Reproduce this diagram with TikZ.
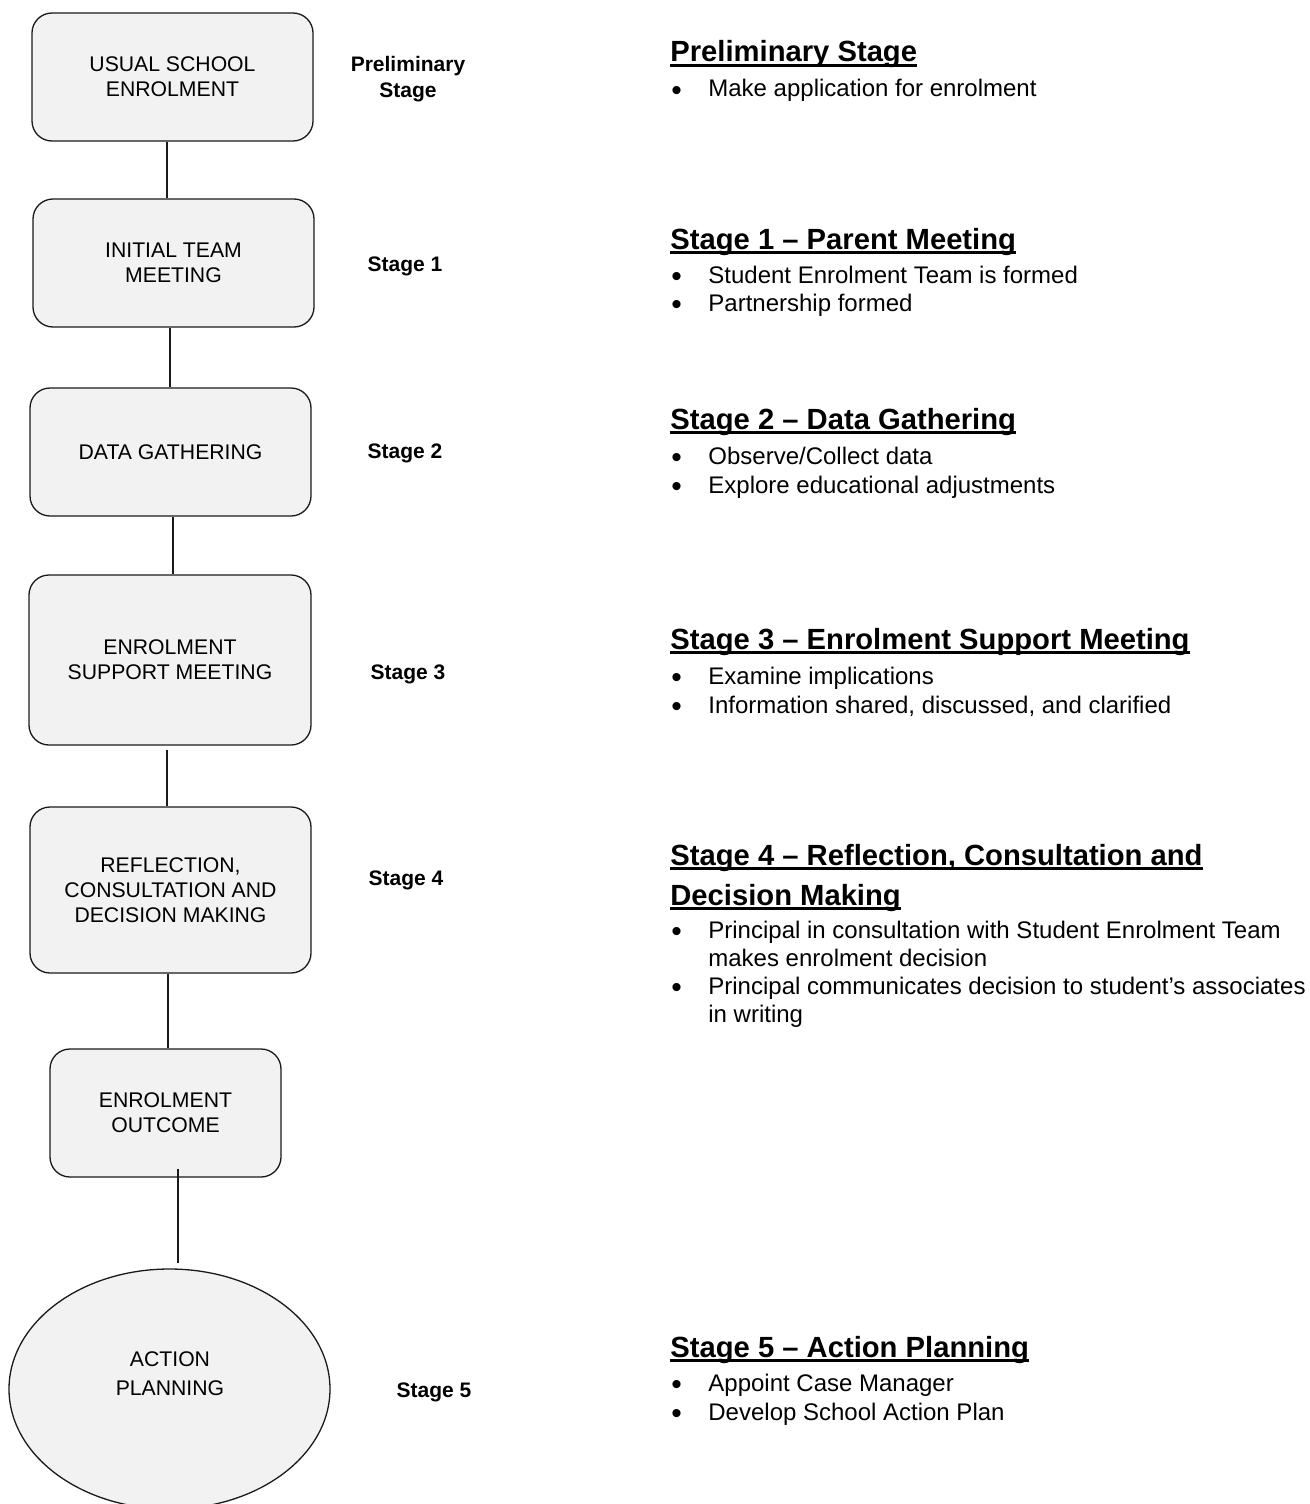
\documentclass[tikz,border=0pt]{standalone}
\usepackage{fontspec}
\setmainfont{Liberation Sans}
\usetikzlibrary{shapes.geometric}
\definecolor{boxfill}{HTML}{F2F2F2}
\definecolor{edgecol}{HTML}{1A1A1A}
\newcommand\bxfont{\fontsize{10.6pt}{12.5pt}\selectfont}
\newcommand\lbfont{\fontsize{10.5pt}{12.5pt}\selectfont\bfseries}
\newcommand\hdfont{\fontsize{14.6pt}{20pt}\selectfont\bfseries}
\newcommand\btfont{\fontsize{12pt}{14pt}\selectfont}
\newcommand\dotfont{\fontsize{15pt}{16pt}\selectfont}
\newcommand\hul[1]{\setbox0\hbox{#1}\rlap{\rule[-2.3pt]{\wd0}{1.3pt}}\box0}
\tikzset{
  stagebox/.style={draw=edgecol, line width=0.65pt, fill=boxfill, rounded corners=10pt,
    align=center, inner sep=0pt, font=\bxfont},
  planell/.style={ellipse, draw=edgecol, line width=0.65pt, fill=boxfill, inner sep=0pt},
  elltext/.style={anchor=base, inner sep=0pt, font=\bxfont},
  stagelbl/.style={anchor=base, inner sep=0pt, font=\lbfont},
  headtxt/.style={anchor=base west, inner sep=0pt, font=\hdfont},
  bullettxt/.style={anchor=base west, inner sep=0pt, font=\btfont},
  bulletdot/.style={anchor=base, inner sep=0pt, font=\dotfont, yshift=-1.6pt},
  link/.style={draw=edgecol, line width=0.55pt}
}
\begin{document}
\begin{tikzpicture}[x=0.5pt, y=-0.5pt]
\useasboundingbox (0,0) rectangle (1310,1504);
% boxes
\node[stagebox, minimum width=140.5pt, minimum height=64pt] (b1) at (172.5,77) {USUAL SCHOOL\\ENROLMENT};
\node[stagebox, minimum width=140.5pt, minimum height=64pt] (b2) at (173.5,263) {INITIAL TEAM\\MEETING};
\node[stagebox, minimum width=140.5pt, minimum height=64pt] (b3) at (170.5,452) {DATA GATHERING};
\node[stagebox, minimum width=141pt, minimum height=85pt] (b4) at (170,660) {ENROLMENT\\SUPPORT MEETING};
\node[stagebox, minimum width=140.5pt, minimum height=83pt] (b5) at (170.5,890) {REFLECTION,\\CONSULTATION AND\\DECISION MAKING};
\node[stagebox, minimum width=115.5pt, minimum height=64pt] (b6) at (165.5,1113) {ENROLMENT\\OUTCOME};
\node[planell, minimum width=160.5pt, minimum height=120pt] (ap) at (169.5,1389) {};
\node[elltext] (apt1) at (170,1366.5) {ACTION};
\node[elltext] (apt2) at (170,1395.5) {PLANNING};
% connector x positions
\coordinate (x12) at (167,0);
\coordinate (x23) at (170,0);
\coordinate (x34) at (173,0);
\coordinate (x45) at (167,0);
\coordinate (x56) at (168,0);
\coordinate (x67) at (178,0);
\draw[link] (b1.south -| x12) -- (b2.north -| x12);
\draw[link] (b2.south -| x23) -- (b3.north -| x23);
\draw[link] (b3.south -| x34) -- (b4.north -| x34);
\draw[link] ([yshift=-2pt]b4.south -| x45) -- (b5.north -| x45);
\draw[link] (b5.south -| x56) -- (b6.north -| x56);
\draw[link] ([yshift=4.5pt]b6.south -| x67) -- ([yshift=2.5pt]ap.north -| x67);
% stage labels
\node[stagelbl] (l0a) at (408,71.5) {Preliminary};
\node[stagelbl] (l0b) at (408,97.5) {Stage};
\node[stagelbl] (l1) at (405,271.5) {Stage 1};
\node[stagelbl] (l2) at (405,458.5) {Stage 2};
\node[stagelbl] (l3) at (408,679.5) {Stage 3};
\node[stagelbl] (l4) at (406,885.5) {Stage 4};
\node[stagelbl] (l5) at (434,1397.5) {Stage 5};
% right column headings
\node[headtxt] (h0) at (670,62) {\hul{Preliminary Stage}};
\node[headtxt] (h1) at (670,249) {\hul{Stage 1 – Parent Meeting}};
\node[headtxt] (h2) at (670,429) {\hul{Stage 2 – Data Gathering}};
\node[headtxt] (h3) at (670,649) {\hul{Stage 3 – Enrolment Support Meeting}};
\node[headtxt] (h4a) at (670,865) {\hul{Stage 4 – Reflection, Consultation and}};
\node[headtxt] (h4b) at (670,905) {\hul{Decision Making}};
\node[headtxt] (h5) at (670,1357) {\hul{Stage 5 – Action Planning}};
% bullets
\node[bulletdot] (d01) at (676.5,97) {•};
\node[bullettxt] (t01) at (708,97) {Make application for enrolment};
\node[bulletdot] (d11) at (676.5,283) {•};
\node[bullettxt] (t11) at (708,283) {Student Enrolment Team is formed};
\node[bulletdot] (d12) at (676.5,311) {•};
\node[bullettxt] (t12) at (708,311) {Partnership formed};
\node[bulletdot] (d21) at (676.5,464) {•};
\node[bullettxt] (t21) at (708,464) {Observe/Collect data};
\node[bulletdot] (d22) at (676.5,493) {•};
\node[bullettxt] (t22) at (708,493) {Explore educational adjustments};
\node[bulletdot] (d31) at (676.5,684) {•};
\node[bullettxt] (t31) at (708,684) {Examine implications};
\node[bulletdot] (d32) at (676.5,713) {•};
\node[bullettxt] (t32) at (708,713) {Information shared, discussed, and clarified};
\node[bulletdot] (d41) at (676.5,938) {•};
\node[bullettxt] (t41a) at (708,938) {Principal in consultation with Student Enrolment Team};
\node[bullettxt] (t41b) at (708,966) {makes enrolment decision};
\node[bulletdot] (d42) at (676.5,994) {•};
\node[bullettxt] (t42a) at (708,994) {Principal communicates decision to student’s associates};
\node[bullettxt] (t42b) at (708,1022) {in writing};
\node[bulletdot] (d51) at (676.5,1391) {•};
\node[bullettxt] (t51) at (708,1391) {Appoint Case Manager};
\node[bulletdot] (d52) at (676.5,1420) {•};
\node[bullettxt] (t52) at (708,1420) {Develop School Action Plan};
\end{tikzpicture}
\end{document}
